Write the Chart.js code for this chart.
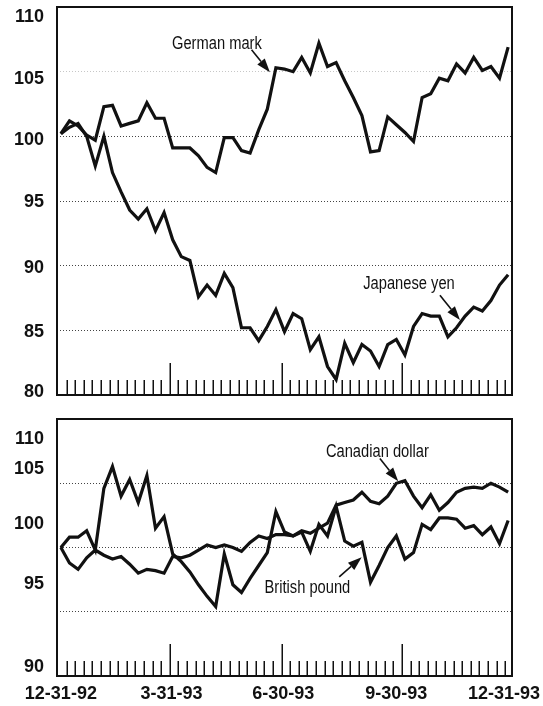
<!DOCTYPE html>
<html><head><meta charset="utf-8">
<script src="https://cdn.jsdelivr.net/npm/chart.js@4.4.1/dist/chart.umd.min.js"></script>
<style>
html,body{margin:0;padding:0;background:#fff;}
#wrap{position:relative;width:543px;height:706px;}
#top{position:absolute;left:0;top:0;width:543px;height:400px;}
#bot{position:absolute;left:0;top:400px;width:543px;height:306px;}
</style></head><body>
<div id="wrap">
<div id="top"><canvas id="c1" width="543" height="400"></canvas></div>
<div id="bot"><canvas id="c2" width="543" height="306"></canvas></div>
</div>
<script>
// weekly observations, 12-31-92 (week 0) to 12-31-93 (week 52), index 12-31-92 = 100
const weeks = Array.from({length: 53}, (_, i) => i);

const germanMark = [100.2, 101.2, 100.8, 100.1, 99.7, 102.3, 102.4, 100.8, 101.0, 101.2,
  102.6, 101.4, 101.4, 99.1, 99.1, 99.1, 98.5, 97.6, 97.2, 99.9,
  99.9, 98.9, 98.7, 100.5, 102.1, 105.3, 105.2, 105.0, 106.1, 104.9,
  107.2, 105.4, 105.7, 104.3, 103.0, 101.6, 98.8, 98.9, 101.5, 100.9,
  100.3, 99.6, 103.0, 103.3, 104.5, 104.3, 105.6, 104.9, 106.1, 105.1,
  105.4, 104.5, 106.9];

const japaneseYen = [100.2, 100.7, 101.0, 100.0, 97.7, 100.0, 97.2, 95.7, 94.3, 93.6,
  94.4, 92.7, 94.1, 92.0, 90.7, 90.4, 87.6, 88.5, 87.7, 89.4,
  88.3, 85.2, 85.2, 84.2, 85.3, 86.6, 84.9, 86.3, 85.9, 83.5,
  84.5, 82.2, 81.2, 84.0, 82.5, 83.9, 83.4, 82.2, 83.9, 84.3,
  83.1, 85.3, 86.3, 86.1, 86.1, 84.5, 85.2, 86.1, 86.8, 86.5,
  87.3, 88.5, 89.3];

const canadianDollar = [100.0, 98.8, 98.3, 99.2, 99.8, 99.4, 99.1, 99.3, 98.7, 98.0,
  98.3, 98.2, 98.0, 99.3, 99.2, 99.4, 99.8, 100.2, 100.0, 100.2,
  100.0, 99.7, 100.4, 100.9, 100.7, 101.0, 101.0, 100.9, 101.3, 101.1,
  101.5, 101.9, 103.3, 103.5, 103.7, 104.3, 103.6, 103.4, 104.0, 105.0,
  105.2, 104.0, 103.1, 104.1, 102.9, 103.5, 104.3, 104.6, 104.7, 104.6,
  105.0, 104.7, 104.3];

const britishPound = [100.0, 100.8, 100.8, 101.3, 99.8, 104.6, 106.3, 104.0, 105.3, 103.5,
  105.6, 101.5, 102.4, 99.5, 98.9, 98.1, 97.1, 96.2, 95.4, 99.5,
  97.1, 96.5, 97.6, 98.6, 99.6, 102.8, 101.2, 100.9, 101.2, 99.7,
  101.8, 100.9, 103.2, 100.5, 100.1, 100.4, 97.3, 98.6, 100.0, 100.9,
  99.1, 99.6, 101.8, 101.4, 102.3, 102.3, 102.2, 101.5, 101.7, 101.0,
  101.6, 100.3, 102.1];

const topYTicks = [80, 85, 90, 95, 100, 105, 110];
const bottomYTicks = [90, 95, 100, 105, 110];
const xTickLabels = ['12-31-92', '3-31-93', '6-30-93', '9-30-93', '12-31-93'];
const xTickWeeks = [0, 12.86, 25.86, 39, 52.14];
const weeklyTickWeeks = Array.from({length: 52}, (_, k) => k + 0.66);
const quarterTickIdx = [12, 25, 39];

const INK = '#111';
const LABEL_FONT = 'bold 18px "Liberation Sans", Arial, sans-serif';
const NOTE_FONT = '17.5px "Liberation Sans", Arial, sans-serif';

const deco = {
  id: 'deco',
  afterDraw(chart, args, o) {
    const {ctx, chartArea: a} = chart;
    const x = chart.scales.x, y = chart.scales.y;
    ctx.save();
    ctx.strokeStyle = INK; ctx.fillStyle = INK;
    // frame
    ctx.lineWidth = 2;
    ctx.strokeRect(a.left, a.top, a.right - a.left, a.bottom - a.top);
    // weekly ticks rising from the bottom axis
    ctx.lineWidth = 1.5;
    weeklyTickWeeks.forEach((w, k) => {
      const px = Math.round(x.getPixelForValue(w)) + 0.25;
      const len = quarterTickIdx.includes(k) ? 32 : 15;
      ctx.beginPath(); ctx.moveTo(px, a.bottom); ctx.lineTo(px, a.bottom - len); ctx.stroke();
    });
    // y labels
    ctx.font = LABEL_FONT; ctx.textAlign = 'right'; ctx.textBaseline = 'middle';
    o.yTicks.forEach((v, k) => ctx.fillText(String(v), 44, y.getPixelForValue(v) + o.yNudge[k]));
    // x labels
    if (o.xLabels) {
      ctx.textAlign = 'center';
      xTickLabels.forEach((t, k) => {
        const w = ctx.measureText(t).width;
        let px = x.getPixelForValue(xTickWeeks[k]);
        px = Math.max(w / 2 + 4, Math.min(chart.width - w / 2 - 3, px));
        ctx.fillText(t, px, a.bottom + 18);
      });
    }
    // annotations with arrows
    (o.notes || []).forEach(n => {
      const tx = x.getPixelForValue(n.at[0]), ty = y.getPixelForValue(n.at[1]);
      ctx.save();
      ctx.translate(tx, ty); ctx.scale(0.84, 1);
      ctx.font = NOTE_FONT; ctx.textAlign = 'center'; ctx.textBaseline = 'alphabetic';
      ctx.fillText(n.text, 0, 0);
      ctx.restore();
      const x0 = x.getPixelForValue(n.from[0]), y0 = y.getPixelForValue(n.from[1]);
      const x1 = x.getPixelForValue(n.to[0]), y1 = y.getPixelForValue(n.to[1]);
      const ang = Math.atan2(y1 - y0, x1 - x0), L = 14, W = 4.8;
      const bx = x1 - L * Math.cos(ang), by = y1 - L * Math.sin(ang);
      ctx.lineWidth = 1.6;
      ctx.beginPath(); ctx.moveTo(x0, y0); ctx.lineTo(bx, by); ctx.stroke();
      ctx.beginPath(); ctx.moveTo(x1, y1);
      ctx.lineTo(bx - W * Math.sin(ang), by + W * Math.cos(ang));
      ctx.lineTo(bx + W * Math.sin(ang), by - W * Math.cos(ang));
      ctx.closePath(); ctx.fill();
    });
    ctx.restore();
  }
};

function series(values) {
  return {
    data: values.map((v, i) => ({x: weeks[i], y: v})),
    borderColor: INK, borderWidth: 3.2, pointRadius: 0, tension: 0, fill: false
  };
}

function makeChart(id, datasets, yMin, yMax, yTicks, gridColor, padding, decoOpts) {
  return new Chart(document.getElementById(id), {
    type: 'line',
    data: {datasets},
    options: {
      responsive: false, animation: false, devicePixelRatio: 1,
      layout: {padding},
      plugins: {legend: {display: false}, tooltip: {enabled: false}, deco: decoOpts},
      scales: {
        x: {type: 'linear', min: -0.45, max: 52.45, display: false},
        y: {
          min: yMin, max: yMax,
          afterBuildTicks: s => { s.ticks = yTicks.map(v => ({value: v})); },
          afterFit: s => { s.width = 0; },
          ticks: {display: false},
          grid: {drawTicks: false, lineWidth: 1, color: c => gridColor(c.tick ? c.tick.value : 0)},
          border: {display: false, dash: [1, 2]}
        }
      }
    },
    plugins: [deco]
  });
}

makeChart('c1', [series(germanMark), series(japaneseYen)], 80, 110, topYTicks,
  v => (v === 80 || v === 110) ? 'rgba(0,0,0,0)' : (v === 105 ? 'rgba(0,0,0,0.22)' : '#444'),
  {left: 57, right: 31, top: 7, bottom: 5},
  {
    yTicks: topYTicks, yNudge: [-3, 2, 2, 1, 4, 7, 10], xLabels: false,
    notes: [
      {text: 'German mark', at: [18.14, 106.77], from: [22.17, 106.69], to: [24.3, 104.95]},
      {text: 'Japanese yen', at: [40.47, 88.23], from: [44.07, 87.72], to: [46.4, 85.79]}
    ]
  });

makeChart('c2', [series(canadianDollar), series(britishPound)], 90, 110, bottomYTicks,
  v => (v === 90 || v === 110) ? 'rgba(0,0,0,0)' : '#444',
  {left: 57, right: 31, top: 19, bottom: 30},
  {
    yTicks: bottomYTicks, yNudge: [-9, -28, -23.5, -14, 20], xLabels: true,
    notes: [
      {text: 'Canadian dollar', at: [36.8, 107.08], from: [37.09, 106.92], to: [39.22, 105.15]},
      {text: 'British pound', at: [28.66, 96.46], from: [32.36, 97.72], to: [34.97, 99.25]}
    ]
  });
</script>
</body></html>
